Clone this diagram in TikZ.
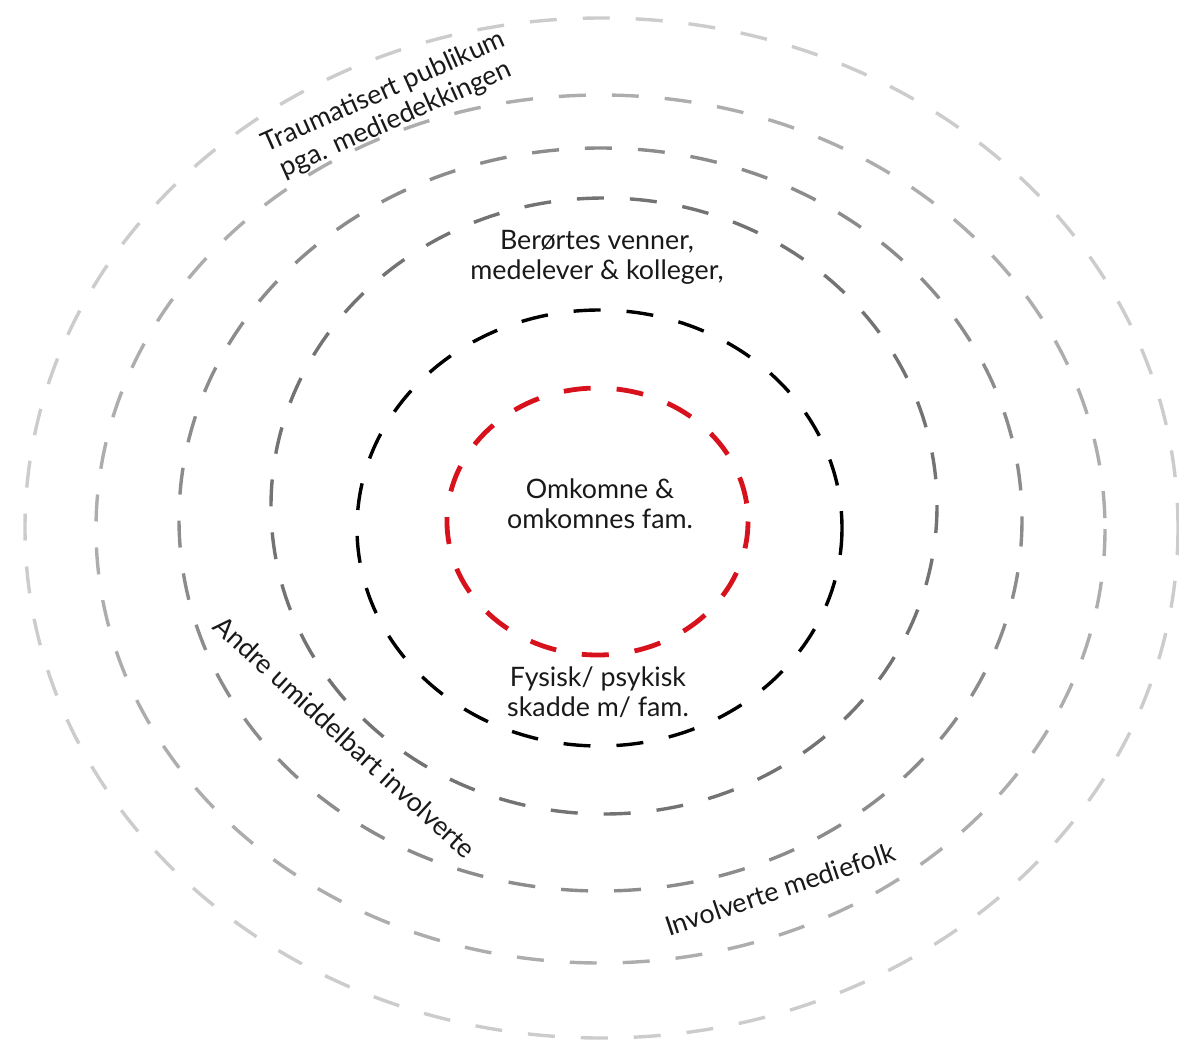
\documentclass[tikz,border=0pt]{standalone}
\usepackage{fontspec}
\setmainfont{Lato}
\definecolor{ringred}{HTML}{D8121C}
\tikzset{ring/.style={dash pattern=on 13.5pt off 13pt,line width=1.7pt}}
\newcommand*{\lblfont}{\fontsize{13.4}{15}\selectfont}

\begin{document}
\begin{tikzpicture}[x=0.5pt,y=-0.5pt,lbl/.style={align=center,font=\lblfont,text=black!90}]
\useasboundingbox (0,0) rectangle (1179,1050);
% rings, outermost first
\draw[ring,black!20] (601.5,528) ellipse [x radius=576.5,y radius=510];
\draw[ring,black!32] (600.5,529) ellipse [x radius=504.5,y radius=434];
\draw[ring,black!45] (600.5,519.5) ellipse [x radius=421.5,y radius=371.5];
\draw[ring,black!55] (604,506) ellipse [x radius=333,y radius=308];
\draw[ring,black] (599.5,528) ellipse [x radius=242.5,y radius=218];
\draw[ring,ringred,line width=2.4pt] (597.5,521.5) ellipse [x radius=150.5,y radius=133.5];
% labels
\node[lbl] (dead) at (600,504) {Omkomne \&\\omkomnes fam.};
\node[lbl] (hurt) at (598,692) {Fysisk/ psykisk\\skadde m/ fam.};
\node[lbl] (friends) at (597,257) {Berørtes venner,\\medelever \& kolleger,};
\node[lbl,rotate=24] (public) at (390,106) {Traumatisert publikum\\pga. mediedekkingen};
\node[lbl,rotate=-42.5] (others) at (345,737) {Andre umiddelbart involverte};
\node[lbl,rotate=18.5] (media) at (780,889) {Involverte mediefolk};
\end{tikzpicture}
\end{document}
